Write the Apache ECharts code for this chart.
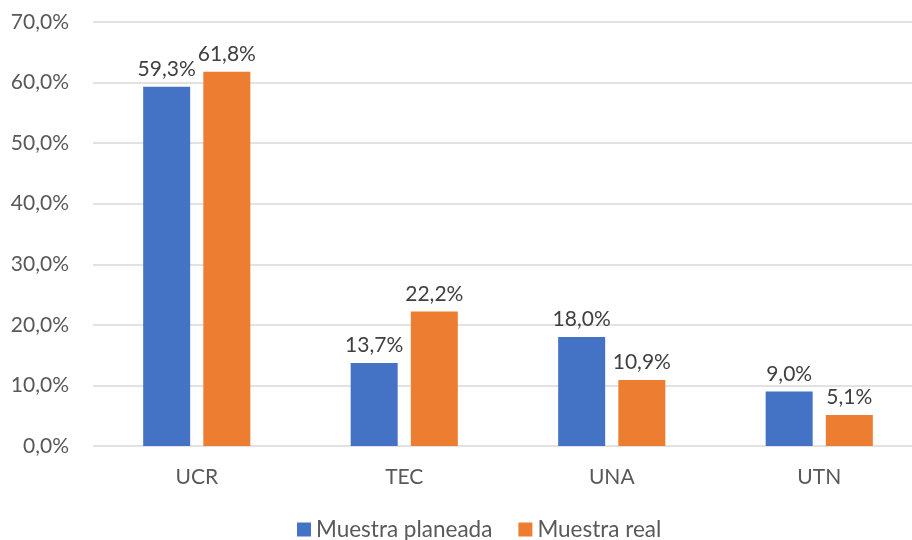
<!DOCTYPE html>
<html>
<head>
<meta charset="utf-8">
<script src="https://cdn.jsdelivr.net/npm/echarts@6/dist/echarts.min.js"></script>
<style>
  html, body { margin: 0; padding: 0; background: #fff; overflow: hidden; }
  #main { width: 923px; height: 540px; }
</style>
</head>
<body>
<div id="main"></div>
<script>
  // datos
  var categorias = ['UCR', 'TEC', 'UNA', 'UTN'];
  var muestraPlaneada = [59.3, 13.7, 18.0, 9.0];
  var muestraReal = [61.8, 22.2, 10.9, 5.1];
  var nombresSeries = ['Muestra planeada', 'Muestra real'];

  var fuente = 'Lato';
  var gris = '#595959';

  function pct(v) {
    return v.toFixed(1).replace('.', ',') + '%';
  }

  // el área del gráfico se sale un poco por la derecha, como en el original
  var myChart = echarts.init(document.getElementById('main'));
  myChart.setOption({
    animation: false,
    color: ['#4472C4', '#ED7D31'],
    textStyle: { fontFamily: fuente },
    grid: {
      left: 93,
      right: 0,
      top: 22,
      bottom: 94,
      containLabel: false
    },
    legend: {
      left: 292,
      bottom: -6,
      itemWidth: 14,
      itemHeight: 14,
      itemGap: 26,
      icon: 'rect',
      textStyle: { color: gris, fontSize: 22.5, fontFamily: fuente },
      data: nombresSeries
    },
    xAxis: {
      type: 'category',
      data: categorias,
      axisLine: { show: false },
      axisTick: { show: false },
      axisLabel: { color: gris, fontSize: 21, margin: 21, fontFamily: fuente }
    },
    yAxis: {
      type: 'value',
      min: 0,
      max: 70,
      interval: 10,
      axisLine: { show: false },
      axisTick: { show: false },
      splitLine: { lineStyle: { color: '#d9d9d9', width: 1.5 } },
      axisLabel: {
        color: gris,
        fontSize: 21,
        margin: 24,
        fontFamily: fuente,
        formatter: function (v) { return pct(v); }
      }
    },
    series: [{
      name: nombresSeries[0],
      type: 'bar',
      data: muestraPlaneada,
      barWidth: 47,
      barGap: '28%',
      label: {
        show: true,
        position: 'top',
        distance: 7,
        color: '#404040',
        fontSize: 21,
        fontFamily: fuente,
        formatter: function (p) { return pct(p.value); }
      }
    }, {
      name: nombresSeries[1],
      type: 'bar',
      data: muestraReal,
      barWidth: 47,
      label: {
        show: true,
        position: 'top',
        distance: 7,
        color: '#404040',
        fontSize: 21,
        fontFamily: fuente,
        formatter: function (p) { return pct(p.value); }
      }
    }]
  });
</script>
</body>
</html>
